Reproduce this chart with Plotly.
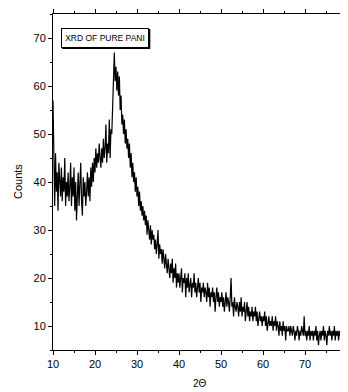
import numpy as np
import plotly.graph_objects as go

# scan grid: 10 to 80 deg, 0.2 deg step
two_theta = np.round(np.arange(10.0, 80.0001, 0.2), 1)

counts = [
    57, 40, 35, 46, 38, 42, 34, 44, 39, 37,
    43, 36, 41, 38, 45, 35, 40, 37, 42, 36,
    39, 44, 35, 41, 37, 43, 34, 40, 32, 38,
    42, 35, 39, 44, 36, 33, 41, 37, 40, 35,
    38, 42, 37, 41, 36, 43, 39, 44, 40, 45,
    42, 47, 43, 46, 44, 48, 45, 43, 47, 44,
    49, 45, 47, 52, 44, 48, 46, 53, 45, 51,
    50, 56, 60, 67, 61, 64, 59, 63, 58, 62,
    55, 58, 52, 54, 50, 53, 48, 51, 47, 49,
    45, 48, 43, 46, 41, 44, 40, 42, 38, 41,
    37, 39, 35, 38, 34, 36, 33, 35, 32, 34,
    31, 33, 29, 32, 30, 28, 31, 27, 30, 28,
    29, 26, 28, 25, 27, 30, 24, 27, 25, 26,
    23, 26, 24, 22, 25, 23, 21, 24, 22, 20,
    23, 21, 24, 19, 22, 20, 23, 18, 21, 19,
    21, 18, 20, 22, 17, 20, 19, 21, 16, 20,
    18, 21, 17, 19, 20, 16, 19, 18, 21, 17,
    19, 16, 18, 20, 17, 19, 15, 18, 17, 19,
    16, 18, 17, 15, 19, 16, 18, 14, 17, 16,
    18, 15, 17, 13, 16, 18, 15, 17, 14, 16,
    15, 17, 14, 16, 13, 15, 17, 14, 16, 15,
    13, 16, 20, 14, 15, 12, 16, 14, 13, 15,
    14, 12, 15, 13, 16, 12, 14, 13, 15, 11,
    13, 15, 12, 14, 11, 13, 12, 14, 11, 13,
    12, 14, 11, 13, 10, 12, 13, 11, 12, 10,
    12, 11, 13, 10, 12, 9, 11, 12, 10, 11,
    10, 12, 9, 11, 10, 12, 9, 11, 10, 8,
    11, 9, 10, 8, 11, 9, 10, 7, 10, 9,
    9, 10, 8, 10, 9, 8, 10, 9, 7, 9,
    8, 10, 9, 7, 9, 8, 10, 9, 8, 12,
    8, 9, 7, 9, 8, 10, 7, 9, 8, 9,
    7, 9, 8, 10, 7, 9, 6, 8, 9, 7,
    9, 8, 10, 7, 9, 8, 6, 9, 8, 10,
    8, 9, 7, 9, 8, 10, 7, 9, 8, 9,
    7, 9, 8, 10, 7, 9, 6, 8, 9, 7,
    8,
]

x_ticks = [10, 20, 30, 40, 50, 60, 70, 80]
y_ticks = [10, 20, 30, 40, 50, 60, 70]
legend_text = "XRD OF PURE PANI"

FONT = "Liberation Sans Narrow, Arial Narrow, Liberation Sans, Arial, sans-serif"

fig = go.Figure()
fig.add_trace(go.Scatter(x=two_theta, y=counts[:len(two_theta)], mode="lines",
                         line=dict(color="black", width=1.2), showlegend=False,
                         cliponaxis=False))

axis_common = dict(showline=True, linecolor="black", linewidth=1, mirror="allticks",
                   ticks="outside", ticklen=4, tickwidth=1, tickcolor="black",
                   showgrid=False, zeroline=False, automargin=False,
                   ticklabeloverflow="allow",
                   tickfont=dict(family=FONT, size=11, color="black"),
                   minor=dict(ticks="outside", ticklen=2, tickcolor="black", dtick=5))

fig.update_xaxes(range=[10, 80], tickvals=x_ticks, **axis_common)
fig.update_yaxes(range=[5, 75], tickvals=y_ticks, **axis_common)

# drop shadow of the label box
fig.add_shape(type="rect", xref="paper", yref="paper", x0=0.031, x1=0.331, y0=0.896, y1=0.955,
              fillcolor="black", line=dict(width=0), layer="above")
fig.add_annotation(xref="paper", yref="paper", x=0.177, y=0.929, xanchor="center", yanchor="middle",
                   text=legend_text, showarrow=False,
                   font=dict(family="Liberation Sans, Arial, sans-serif", size=8.5, color="black"),
                   bgcolor="white", bordercolor="black", borderwidth=1, borderpad=3,
                   width=80, height=12)
fig.add_annotation(xref="paper", yref="paper", x=-0.119, y=0.5, xanchor="center", yanchor="middle",
                   text="Counts", textangle=-90, showarrow=False,
                   font=dict(family="Liberation Sans, Arial, sans-serif", size=11, color="black"))
fig.add_annotation(xref="paper", yref="paper", x=0.5, y=-0.122, xanchor="center", yanchor="bottom",
                   text="2Θ", showarrow=False,
                   font=dict(family=FONT, size=10, color="black"))

# page body has an 8px margin; offsets compensate so the plot area sits at x 53-347, y 14-350
fig.update_layout(width=340, height=384, margin=dict(l=45, r=1, t=6, b=42),
                  plot_bgcolor="white", paper_bgcolor="white")
fig.write_html("out.html")
